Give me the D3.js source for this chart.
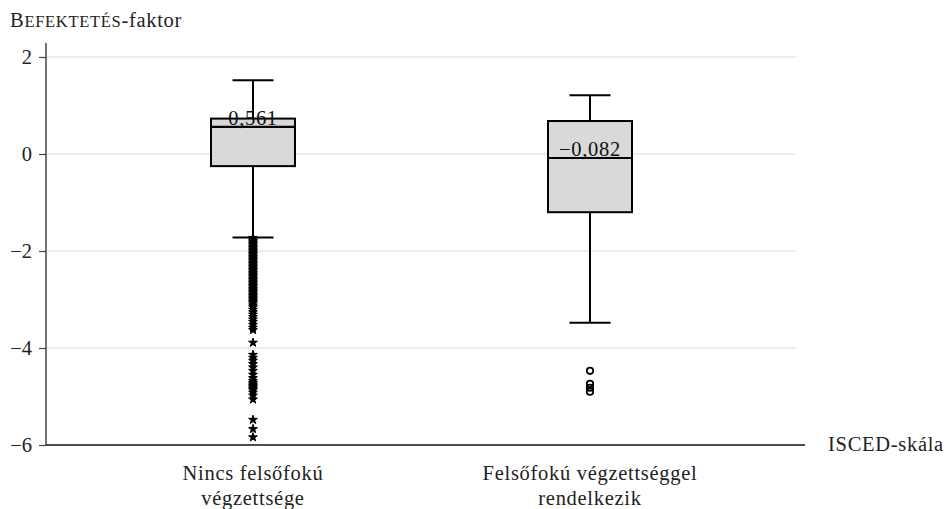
<!DOCTYPE html>
<html>
<head>
<meta charset="utf-8">
<script src="https://cdn.jsdelivr.net/npm/d3@7"></script>
<style>
  html, body { margin: 0; padding: 0; background: #fff; }
  svg { display: block; }
  svg text { font-family: "Liberation Serif", serif; }
</style>
</head>
<body>
<svg id="chart" width="947" height="509"></svg>
<script>
// ---- data ----
const categories = ["Nincs felsőfokú\nvégzettsége", "Felsőfokú végzettséggel\nrendelkezik"];
const whiskerLow = [-1.72, -3.48];
const q1 = [-0.25, -1.20];
const median = [0.561, -0.082];
const q3 = [0.73, 0.68];
const whiskerHigh = [1.52, 1.21];
const medianLabels = ["0,561", "−0,082"];
const outliersA = [-1.73,-1.76,-1.79,-1.82,-1.85,-1.88,-1.91,-1.94,-1.97,-2.00,-2.03,-2.06,-2.09,-2.12,-2.15,-2.18,-2.21,-2.24,-2.27,-2.30,-2.33,-2.36,-2.39,-2.42,-2.45,-2.48,-2.51,-2.54,-2.57,-2.60,-2.63,-2.66,-2.69,-2.72,-2.75,-2.78,-2.81,-2.84,-2.87,-2.90,-2.93,-2.96,-2.99,-3.02,-3.05,-3.08,-3.12,-3.16,-3.21,-3.26,-3.31,-3.36,-3.41,-3.46,-3.52,-3.58,-3.63,-3.89,-4.14,-4.20,-4.26,-4.33,-4.40,-4.47,-4.55,-4.62,-4.68,-4.72,-4.75,-4.78,-4.81,-4.84,-4.87,-4.92,-4.98,-5.06,-5.48,-5.67,-5.84];
const outliersB = [-4.47, -4.74, -4.82, -4.90];
const yTicks = [2, 0, -2, -4, -6];
const yTitleParts = [["B", false], ["EFEKTETÉS", true], ["-faktor", false]];
const xTitle = "ISCED-skála";

// ---- layout ----
const FONT = "Liberation Serif";
const FS = 20.5, LS = 0.7;
const svg = d3.select("#chart");
const left = 46, gridRight = 796, axisRight = 805;
const y = d3.scaleLinear().domain([-6, 2]).range([445, 57]);
const xc = d3.scaleOrdinal().domain(categories).range([253, 590]);
const boxW = 84, capW = 41;

// gridlines
svg.append("g").selectAll("line").data(yTicks.filter(d => d !== -6)).join("line")
  .attr("x1", left).attr("x2", gridRight)
  .attr("y1", d => y(d)).attr("y2", d => y(d))
  .attr("stroke", "#dcdcdc").attr("stroke-width", 1.2);

// y axis
const yAxis = d3.axisLeft(y).tickValues(yTicks).tickSize(7).tickPadding(7)
  .tickFormat(d => d < 0 ? "−" + Math.abs(d) : String(d));
const gy = svg.append("g").attr("transform", `translate(${left},0)`).call(yAxis)
  .attr("font-family", FONT).attr("font-size", FS);
gy.select(".domain").remove();
gy.selectAll(".tick line").attr("stroke", "#444").attr("stroke-width", 1.2);
gy.selectAll(".tick text").attr("fill", "#222").attr("font-family", FONT).attr("font-size", FS);
svg.append("line").attr("x1", left).attr("x2", left).attr("y1", 43).attr("y2", y(-6))
  .attr("stroke", "#444").attr("stroke-width", 1.5);

// x axis line
svg.append("line").attr("x1", left).attr("x2", axisRight).attr("y1", y(-6)).attr("y2", y(-6))
  .attr("stroke", "#111").attr("stroke-width", 1.5);

// titles
const tt = svg.append("text").attr("x", 10).attr("y", 27).attr("fill", "#222")
  .attr("font-family", FONT).attr("letter-spacing", LS);
yTitleParts.forEach(([s, small]) => {
  tt.append("tspan").attr("font-size", small ? 16.5 : FS).text(s);
});
svg.append("text").attr("x", 828).attr("y", 451).attr("font-size", FS)
  .attr("font-family", FONT).attr("letter-spacing", LS).attr("fill", "#222").text(xTitle);

// category labels
categories.forEach(c => {
  const lines = c.split("\n");
  const t = svg.append("text").attr("text-anchor", "middle").attr("font-size", FS)
    .attr("font-family", FONT).attr("letter-spacing", LS).attr("fill", "#222");
  lines.forEach((l, i) => {
    t.append("tspan").attr("x", xc(c)).attr("y", 480 + i * 25).text(l);
  });
});

// boxes
categories.forEach((c, i) => {
  const cx = xc(c);
  const g = svg.append("g");
  g.append("line").attr("x1", cx).attr("x2", cx).attr("y1", y(whiskerHigh[i])).attr("y2", y(q3[i]))
    .attr("stroke", "#000").attr("stroke-width", 2);
  g.append("line").attr("x1", cx).attr("x2", cx).attr("y1", y(q1[i])).attr("y2", y(whiskerLow[i]))
    .attr("stroke", "#000").attr("stroke-width", 2);
  [whiskerHigh[i], whiskerLow[i]].forEach(v => {
    g.append("line").attr("x1", cx - capW / 2).attr("x2", cx + capW / 2).attr("y1", y(v)).attr("y2", y(v))
      .attr("stroke", "#000").attr("stroke-width", 2);
  });
  g.append("rect").attr("x", cx - boxW / 2).attr("width", boxW)
    .attr("y", y(q3[i])).attr("height", y(q1[i]) - y(q3[i]))
    .attr("fill", "#d9d9d9").attr("stroke", "#000").attr("stroke-width", 2);
  g.append("line").attr("x1", cx - boxW / 2).attr("x2", cx + boxW / 2)
    .attr("y1", y(median[i])).attr("y2", y(median[i]))
    .attr("stroke", "#000").attr("stroke-width", 2.2);
  g.append("text").attr("x", cx).attr("y", y(median[i]) - 2).attr("text-anchor", "middle")
    .attr("font-size", FS).attr("font-family", FONT).attr("letter-spacing", LS)
    .attr("fill", "#111").text(medianLabels[i]);
});

// outliers
const star = d3.symbol().type(d3.symbolStar).size(24);
svg.append("g").selectAll("path").data(outliersA).join("path")
  .attr("d", star)
  .attr("transform", d => `translate(${xc(categories[0])},${y(d)})`)
  .attr("fill", "#000").attr("stroke", "#000").attr("stroke-width", 1);
svg.append("g").selectAll("circle").data(outliersB).join("circle")
  .attr("cx", xc(categories[1])).attr("cy", d => y(d)).attr("r", 3.2)
  .attr("fill", "none").attr("stroke", "#000").attr("stroke-width", 1.8);
</script>
</body>
</html>
